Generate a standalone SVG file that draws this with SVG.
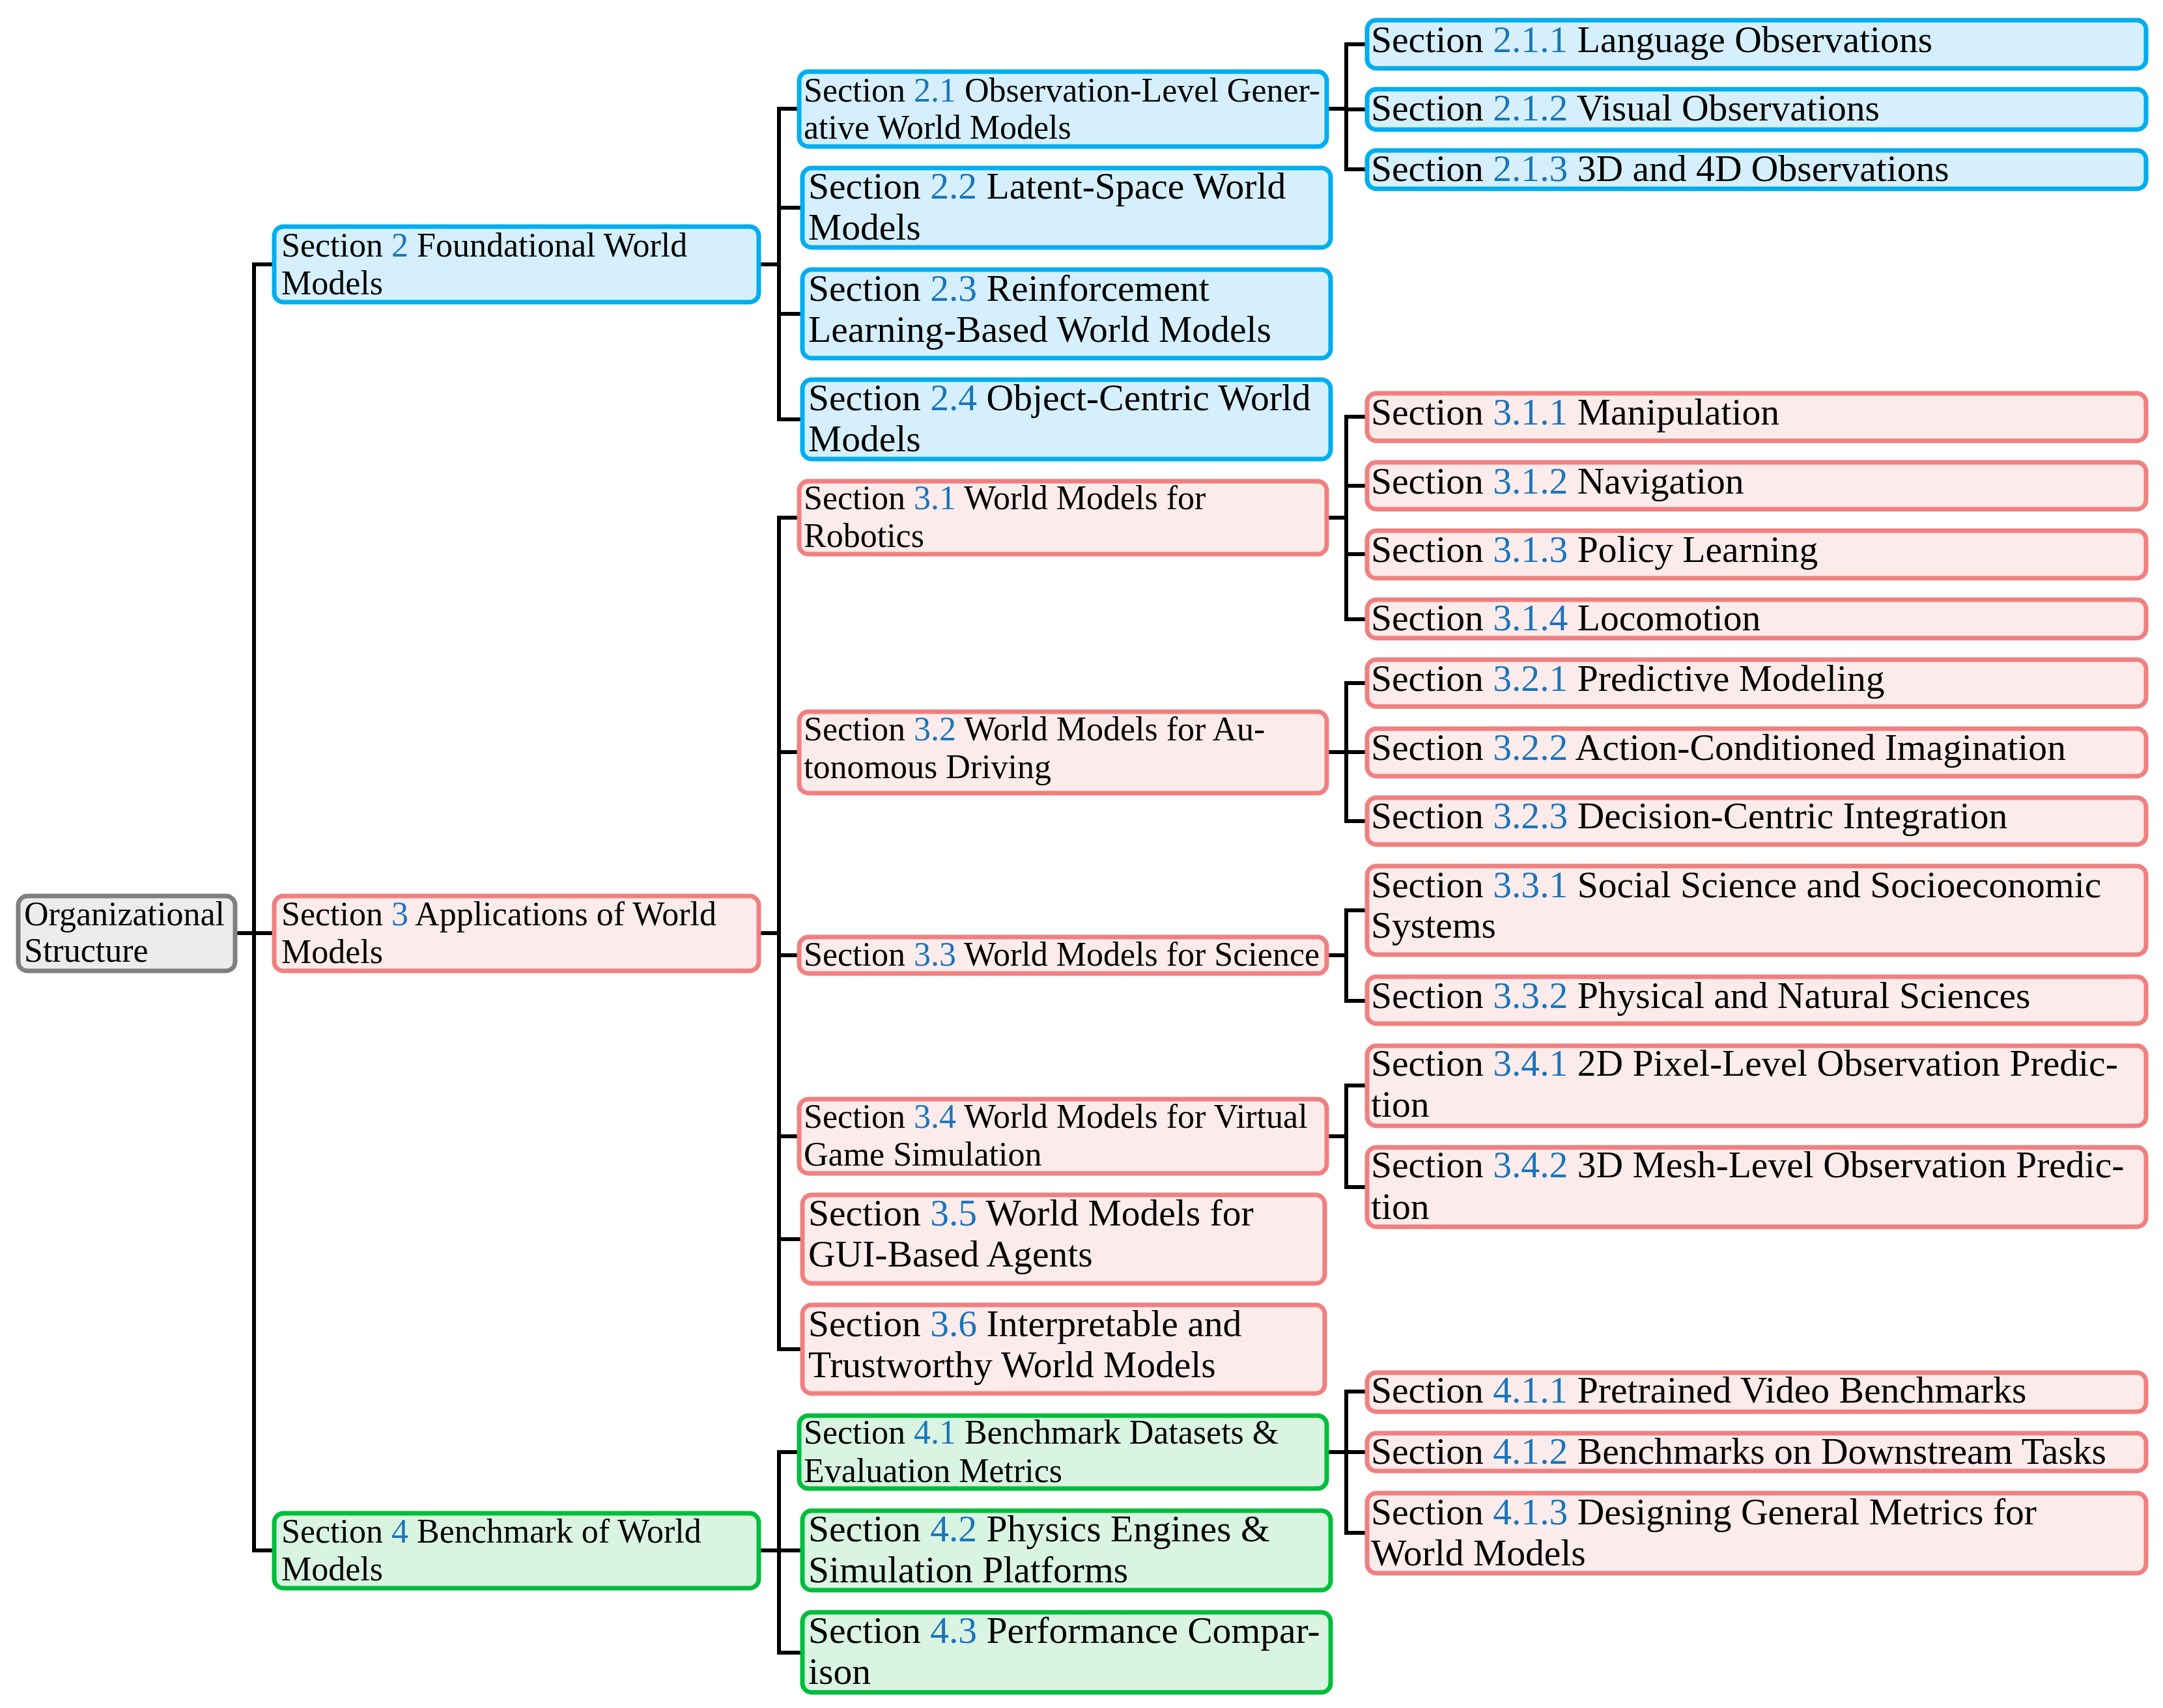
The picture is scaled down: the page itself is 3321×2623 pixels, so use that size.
<svg xmlns="http://www.w3.org/2000/svg" width="3321" height="2623" viewBox="0 0 3321 2623">
<style>
.bg{fill:#ffffff}
.box{stroke-width:7}
.gray{fill:#ECECEC;stroke:#808080}
.blue{fill:#D5F0FC;stroke:#00AEEF}
.red{fill:#FCEBEB;stroke:#F08080}
.green{fill:#DAF4E2;stroke:#00BE3C}
text{font-family:"Liberation Serif","Times New Roman",serif;fill:#000}
.s{font-size:52px}
.l{font-size:57.6px}
.n{fill:#1B75BB}
.c{fill:none;stroke:#000;stroke-width:6;stroke-linejoin:miter}
</style>
<rect class="bg" x="0" y="0" width="3321" height="2623"/>
<g id="connectors">
<path class="c" d="M364,1433 H390 M418,406 H390 V2381 H418 M390,1433 H418"/>
<path class="c" d="M1168,406 H1196 M1226,167 H1196 V644 H1230 M1196,319 H1230 M1196,482 H1230"/>
<path class="c" d="M1168,1433 H1196 M1226,795 H1196 V2072 H1230 M1196,1155 H1226 M1196,1467 H1226 M1196,1745 H1226 M1196,1903 H1230"/>
<path class="c" d="M1168,2381 H1196 M1226,2230 H1196 V2538 H1230 M1196,2381 H1230"/>
<path class="c" d="M2038,167 H2067 M2098,68 H2067 V260 H2098 M2067,168 H2098"/>
<path class="c" d="M2038,795 H2067 M2098,640 H2067 V951 H2098 M2067,746 H2098 M2067,851 H2098"/>
<path class="c" d="M2038,1155 H2067 M2098,1049 H2067 V1261 H2098 M2067,1155 H2098"/>
<path class="c" d="M2038,1467 H2067 M2098,1398 H2067 V1537 H2098"/>
<path class="c" d="M2038,1745 H2067 M2098,1667 H2067 V1823 H2098"/>
<path class="c" d="M2038,2230 H2067 M2098,2137 H2067 V2354 H2098 M2067,2230 H2098"/>
</g>
<g id="root"><rect class="box gray" x="28" y="1376" width="333" height="115" rx="14"/><text class="s" x="37" y="1421">Organizational</text><text class="s" x="37" y="1477">Structure</text></g>
<g id="s2"><rect class="box blue" x="421" y="348" width="744" height="116" rx="14"/><text class="s" x="432" y="394">Section <tspan class="n">2</tspan> Foundational World</text><text class="s" x="432" y="452">Models</text></g>
<g id="s3"><rect class="box red" x="421" y="1376" width="744" height="115" rx="14"/><text class="s" x="432" y="1421">Section <tspan class="n">3</tspan> Applications of World</text><text class="s" x="432" y="1479">Models</text></g>
<g id="s4"><rect class="box green" x="421" y="2324" width="744" height="115" rx="14"/><text class="s" x="432" y="2369">Section <tspan class="n">4</tspan> Benchmark of World</text><text class="s" x="432" y="2427">Models</text></g>
<g id="s2_1"><rect class="box blue" x="1227" y="110" width="810" height="115" rx="14"/><text class="s" x="1234" y="156">Section <tspan class="n">2.1</tspan> Observation-Level Gener-</text><text class="s" x="1234" y="213">ative World Models</text></g>
<g id="s2_2"><rect class="box blue" x="1232" y="258" width="811" height="122" rx="14"/><text class="l" x="1241" y="305">Section <tspan class="n">2.2</tspan> Latent-Space World</text><text class="l" x="1241" y="368">Models</text></g>
<g id="s2_3"><rect class="box blue" x="1232" y="414" width="811" height="136" rx="14"/><text class="l" x="1241" y="462">Section <tspan class="n">2.3</tspan> Reinforcement</text><text class="l" x="1241" y="525">Learning-Based World Models</text></g>
<g id="s2_4"><rect class="box blue" x="1232" y="583" width="811" height="122" rx="14"/><text class="l" x="1241" y="630">Section <tspan class="n">2.4</tspan> Object-Centric World</text><text class="l" x="1241" y="693">Models</text></g>
<g id="s3_1"><rect class="box red" x="1227" y="739" width="810" height="112" rx="14"/><text class="s" x="1234" y="782">Section <tspan class="n">3.1</tspan> World Models for</text><text class="s" x="1234" y="840">Robotics</text></g>
<g id="s3_2"><rect class="box red" x="1227" y="1093" width="810" height="125" rx="14"/><text class="s" x="1234" y="1137">Section <tspan class="n">3.2</tspan> World Models for Au-</text><text class="s" x="1234" y="1195">tonomous Driving</text></g>
<g id="s3_3"><rect class="box red" x="1227" y="1439" width="810" height="56" rx="14"/><text class="s" x="1234" y="1483">Section <tspan class="n">3.3</tspan> World Models for Science</text></g>
<g id="s3_4"><rect class="box red" x="1227" y="1688" width="810" height="114" rx="14"/><text class="s" x="1234" y="1732">Section <tspan class="n">3.4</tspan> World Models for Virtual</text><text class="s" x="1234" y="1790">Game Simulation</text></g>
<g id="s3_5"><rect class="box red" x="1232" y="1835" width="802" height="136" rx="14"/><text class="l" x="1241" y="1882">Section <tspan class="n">3.5</tspan> World Models for</text><text class="l" x="1241" y="1945">GUI-Based Agents</text></g>
<g id="s3_6"><rect class="box red" x="1232" y="2004" width="802" height="136" rx="14"/><text class="l" x="1241" y="2052">Section <tspan class="n">3.6</tspan> Interpretable and</text><text class="l" x="1241" y="2115">Trustworthy World Models</text></g>
<g id="s4_1"><rect class="box green" x="1227" y="2174" width="810" height="112" rx="14"/><text class="s" x="1234" y="2217">Section <tspan class="n">4.1</tspan> Benchmark Datasets &amp;</text><text class="s" x="1234" y="2276">Evaluation Metrics</text></g>
<g id="s4_2"><rect class="box green" x="1232" y="2320" width="811" height="122" rx="14"/><text class="l" x="1241" y="2367">Section <tspan class="n">4.2</tspan> Physics Engines &amp;</text><text class="l" x="1241" y="2430">Simulation Platforms</text></g>
<g id="s4_3"><rect class="box green" x="1232" y="2476" width="811" height="123" rx="14"/><text class="l" x="1241" y="2523">Section <tspan class="n">4.3</tspan> Performance Compar-</text><text class="l" x="1241" y="2586">ison</text></g>
<g id="s2_1_1"><rect class="box blue" x="2099" y="31" width="1196" height="74" rx="14"/><text class="l" x="2105" y="80">Section <tspan class="n">2.1.1</tspan> Language Observations</text></g>
<g id="s2_1_2"><rect class="box blue" x="2099" y="137" width="1196" height="62" rx="14"/><text class="l" x="2105" y="185">Section <tspan class="n">2.1.2</tspan> Visual Observations</text></g>
<g id="s2_1_3"><rect class="box blue" x="2099" y="231" width="1196" height="59" rx="14"/><text class="l" x="2105" y="278">Section <tspan class="n">2.1.3</tspan> 3D and 4D Observations</text></g>
<g id="s3_1_1"><rect class="box red" x="2099" y="604" width="1196" height="73" rx="14"/><text class="l" x="2105" y="652">Section <tspan class="n">3.1.1</tspan> Manipulation</text></g>
<g id="s3_1_2"><rect class="box red" x="2099" y="710" width="1196" height="72" rx="14"/><text class="l" x="2105" y="758">Section <tspan class="n">3.1.2</tspan> Navigation</text></g>
<g id="s3_1_3"><rect class="box red" x="2099" y="815" width="1196" height="73" rx="14"/><text class="l" x="2105" y="863">Section <tspan class="n">3.1.3</tspan> Policy Learning</text></g>
<g id="s3_1_4"><rect class="box red" x="2099" y="921" width="1196" height="59" rx="14"/><text class="l" x="2105" y="968">Section <tspan class="n">3.1.4</tspan> Locomotion</text></g>
<g id="s3_2_1"><rect class="box red" x="2099" y="1013" width="1196" height="72" rx="14"/><text class="l" x="2105" y="1061">Section <tspan class="n">3.2.1</tspan> Predictive Modeling</text></g>
<g id="s3_2_2"><rect class="box red" x="2099" y="1119" width="1196" height="73" rx="14"/><text class="l" x="2105" y="1167">Section <tspan class="n">3.2.2</tspan> Action-Conditioned Imagination</text></g>
<g id="s3_2_3"><rect class="box red" x="2099" y="1225" width="1196" height="72" rx="14"/><text class="l" x="2105" y="1272">Section <tspan class="n">3.2.3</tspan> Decision-Centric Integration</text></g>
<g id="s3_3_1"><rect class="box red" x="2099" y="1330" width="1196" height="136" rx="14"/><text class="l" x="2105" y="1378">Section <tspan class="n">3.3.1</tspan> Social Science and Socioeconomic</text><text class="l" x="2105" y="1440">Systems</text></g>
<g id="s3_3_2"><rect class="box red" x="2099" y="1500" width="1196" height="72" rx="14"/><text class="l" x="2105" y="1548">Section <tspan class="n">3.3.2</tspan> Physical and Natural Sciences</text></g>
<g id="s3_4_1"><rect class="box red" x="2099" y="1606" width="1196" height="123" rx="14"/><text class="l" x="2105" y="1652">Section <tspan class="n">3.4.1</tspan> 2D Pixel-Level Observation Predic-</text><text class="l" x="2105" y="1715">tion</text></g>
<g id="s3_4_2"><rect class="box red" x="2099" y="1762" width="1196" height="122" rx="14"/><text class="l" x="2105" y="1808">Section <tspan class="n">3.4.2</tspan> 3D Mesh-Level Observation Predic-</text><text class="l" x="2105" y="1872">tion</text></g>
<g id="s4_1_1"><rect class="box red" x="2099" y="2108" width="1196" height="60" rx="14"/><text class="l" x="2105" y="2154">Section <tspan class="n">4.1.1</tspan> Pretrained Video Benchmarks</text></g>
<g id="s4_1_2"><rect class="box red" x="2099" y="2201" width="1196" height="58" rx="14"/><text class="l" x="2105" y="2248">Section <tspan class="n">4.1.2</tspan> Benchmarks on Downstream Tasks</text></g>
<g id="s4_1_3"><rect class="box red" x="2099" y="2293" width="1196" height="123" rx="14"/><text class="l" x="2105" y="2341">Section <tspan class="n">4.1.3</tspan> Designing General Metrics for</text><text class="l" x="2105" y="2404">World Models</text></g>
</svg>
